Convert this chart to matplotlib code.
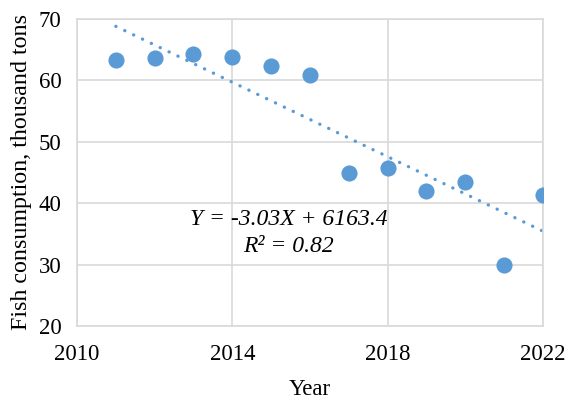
import numpy as np
import matplotlib.pyplot as plt

plt.rcParams['font.family'] = ['Liberation Serif', 'DejaVu Serif']

years = np.array([2011, 2012, 2013, 2014, 2015, 2016, 2017, 2018, 2019, 2020, 2021, 2022])
consumption = np.array([63.3, 63.6, 64.3, 63.8, 62.3, 60.9, 44.9, 45.7, 42.0, 43.4, 29.9, 41.3])

x_ticks = [2010, 2014, 2018, 2022]
y_ticks = [20, 30, 40, 50, 60, 70]

blue = '#5B9BD5'
grid_col = '#D9D9D9'

fig = plt.figure(figsize=(5.68, 4.01), dpi=100)
ax = fig.add_axes([0.1356, 0.187, 0.820, 0.766])

ax.scatter(years, consumption, s=135, color=blue, zorder=3, linewidths=0)

# linear trend
slope, intercept = np.polyfit(years, consumption, 1)
xs = np.array([years.min(), years.max()])
ax.plot(xs, slope * xs + intercept, color=blue, linewidth=2.4,
        linestyle=(0, (0.05, 2.9)), dash_capstyle='round', zorder=2)

ax.text(2015.45, 37.3, 'Y = -3.03X + 6163.4', fontsize=17, style='italic',
        ha='center', va='center')
ax.text(2015.45, 32.9, 'R² = 0.82', fontsize=17, style='italic',
        ha='center', va='center')

ax.set_xlim(2010, 2022)
ax.set_ylim(20, 70)
ax.set_xticks(x_ticks)
ax.set_yticks(y_ticks)
ax.grid(True, color=grid_col, linewidth=1.2)
ax.set_axisbelow(True)
for sp in ax.spines.values():
    sp.set_color(grid_col)
    sp.set_linewidth(1.2)
ax.tick_params(axis='y', length=0, labelsize=16.5, pad=11)
ax.tick_params(axis='x', length=0, labelsize=16.5, pad=13)
ax.set_xlabel('Year', fontsize=16.5, labelpad=10)
ax.set_ylabel('Fish consumption, thousand tons', fontsize=17.3, labelpad=5)

fig.savefig('out.png', dpi=100)
